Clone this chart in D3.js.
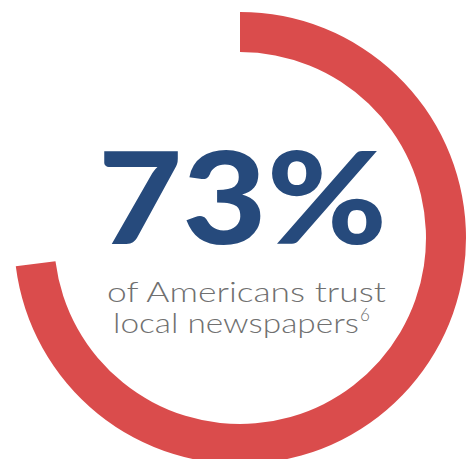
<!DOCTYPE html>
<html><head><meta charset="utf-8">
<script src="https://cdn.jsdelivr.net/npm/d3@7"></script>
<style>html,body{margin:0;padding:0;background:#fff;}svg{display:block;}</style>
</head><body>
<svg id="c" width="475" height="459"></svg>
<script>
const percentValue = [73];
const totalValue = [100];
const headline = ["73%"];
const captionLines = ["of Americans trust", "local newspapers"];
const footnote = ["6"];

const svg = d3.select("#c");
const cx = 240, cy = 238, rOuter = 226, rInner = 186;
const g = svg.append("g").attr("transform", `translate(${cx},${cy})`);

const angle = d3.scaleLinear().domain([0, totalValue[0]]).range([0, 2 * Math.PI]);
const arc = d3.arc().innerRadius(rInner).outerRadius(rOuter);
g.append("path")
  .attr("d", arc({startAngle: 0, endAngle: angle(percentValue[0])}))
  .attr("fill", "#DA4C4C");

svg.append("text")
  .attr("x", 98).attr("y", 244)
  .attr("font-family", "Lato, 'DejaVu Sans', sans-serif")
  .attr("font-weight", 900)
  .attr("font-size", 127)
  .attr("fill", "#264A7C")
  .attr("textLength", 289)
  .attr("lengthAdjust", "spacingAndGlyphs")
  .text(headline[0]);

svg.append("text")
  .attr("x", 107).attr("y", 302)
  .attr("font-family", "Lato, 'Open Sans', sans-serif")
  .attr("font-weight", 300)
  .attr("font-size", 27)
  .attr("fill", "#707070")
  .attr("textLength", 279)
  .attr("lengthAdjust", "spacingAndGlyphs")
  .text(captionLines[0]);

svg.append("text")
  .attr("x", 113).attr("y", 333)
  .attr("font-family", "Lato, 'Open Sans', sans-serif")
  .attr("font-weight", 300)
  .attr("font-size", 27)
  .attr("fill", "#707070")
  .attr("textLength", 246)
  .attr("lengthAdjust", "spacingAndGlyphs")
  .text(captionLines[1]);

svg.append("text")
  .attr("x", 360).attr("y", 321)
  .attr("font-family", "Lato, 'Open Sans', sans-serif")
  .attr("font-weight", 300)
  .attr("font-size", 17)
  .attr("fill", "#707070")
  .text(footnote[0]);
</script>
</body></html>
